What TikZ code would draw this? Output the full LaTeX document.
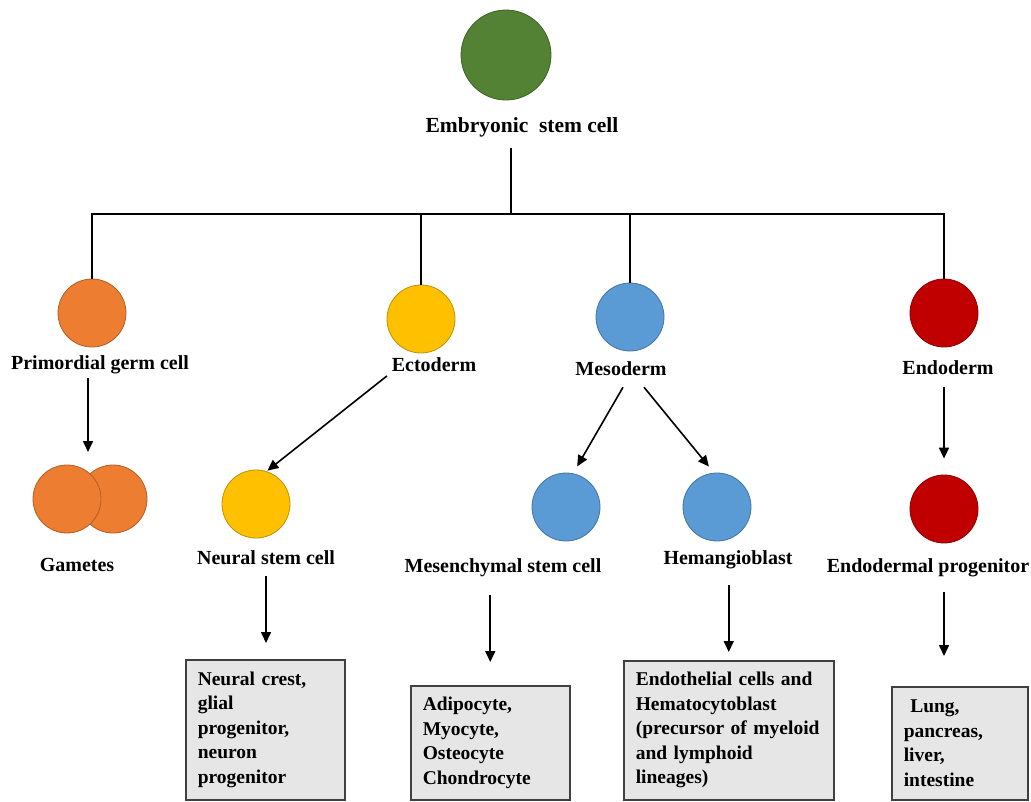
\documentclass[tikz,border=0pt]{standalone}
\usepackage{fontspec}
\setmainfont{Liberation Serif}
\usepackage{xcolor}
\usepackage{tikz}
\usetikzlibrary{arrows.meta, calc}

\definecolor{escgreen}{RGB}{84,130,53}
\definecolor{germorange}{RGB}{237,125,49}
\definecolor{ectoyellow}{RGB}{255,192,0}
\definecolor{mesoblue}{RGB}{91,155,213}
\definecolor{endored}{RGB}{192,0,0}
\definecolor{boxfill}{RGB}{231,230,230}
\definecolor{boxline}{RGB}{64,64,64}

\begin{document}
\begin{tikzpicture}[x=1pt, y=-1pt,
  cell/.style={circle, draw=#1!75!black, fill=#1, line width=0.8pt, minimum size=68pt, inner sep=0pt},
  lbl/.style={font=\fontsize{20}{24}\selectfont\bfseries, inner sep=0pt},
  cellbox/.style={draw=boxline, fill=boxfill, line width=1.5pt, inner xsep=12pt, inner ysep=0pt, align=left, anchor=north west, font=\fontsize{19.5}{24.5}\selectfont\bfseries},
  link/.style={line width=1.6pt},
  arr/.style={line width=1.6pt, -{Triangle[length=11pt, width=10pt]}}]
  \useasboundingbox (0,0) rectangle (1031,801);

  % top
  \node[cell=escgreen, minimum size=90pt] (esc) at (506, 55) {};
  \node[lbl, font=\fontsize{21.5}{26}\selectfont\bfseries] (esclbl) at (522, 127) {Embryonic\ \ stem cell};
  \coordinate (split) at (511, 214);

  % germ layers
  \node[cell=germorange] (prim) at (92, 313) {};
  \node[lbl] (primlbl) at (100, 365) {Primordial germ cell};
  \node[cell=ectoyellow] (ecto) at (421, 319) {};
  \node[lbl] (ectolbl) at (434, 365) {Ectoderm};
  \node[cell=mesoblue] (meso) at (630, 317) {};
  \node[lbl] (mesolbl) at (621, 369) {Mesoderm};
  \node[cell=endored] (endo) at (944, 313) {};
  \node[lbl] (endolbl) at (948, 368) {Endoderm};

  \draw[link, shorten <=11pt] (esclbl.south -| split) -- (split);
  \draw[link] (prim.north) |- (split) -| (endo.north);
  \draw[link] (ecto.north) -- (ecto.north |- split);
  \draw[link] (meso.north) -- (meso.north |- split);

  % progenitors
  \node[cell=germorange] (gam2) at (113, 499) {};
  \node[cell=germorange] (gam1) at (67, 499) {};
  \coordinate (gam) at (88, 465);
  \node[lbl] (gamlbl) at (77, 565) {Gametes};
  \node[cell=ectoyellow] (neural) at (256, 504) {};
  \node[lbl] (neurlbl) at (266, 558) {Neural stem cell};
  \node[cell=mesoblue] (mesen) at (566, 507) {};
  \node[lbl] (mesenlbl) at (503, 568) {Mesenchymal stem cell};
  \node[cell=mesoblue] (hemang) at (717, 507) {};
  \node[lbl] (hemanglbl) at (728, 560) {Hemangioblast};
  \node[cell=endored] (endoprog) at (944, 509) {};
  \node[lbl] (endoplbl) at (928, 568) {Endodermal progenitor};

  \draw[arr, shorten <=4pt, shorten >=13pt] (primlbl.south -| gam) -- (gam);
  \draw[arr, shorten <=6pt, shorten >=1pt] (ectolbl.south west) -- (neural.72);
  \draw[arr, shorten >=8pt] ([xshift=2pt, yshift=-11pt]mesolbl.south) -- (mesen.78);
  \draw[arr, shorten >=8pt] ([xshift=23pt, yshift=-11pt]mesolbl.south) -- (hemang.95);
  \draw[arr, shorten <=12pt, shorten >=16pt] (endolbl.south -| endoprog) -- (endoprog);

  % mature cell types
  \node[cellbox, text width=135pt, minimum height=140pt] (neurbox) at (185, 659)
    {Neural crest,\\ glial\\ progenitor,\\ neuron\\ progenitor};
  \node[cellbox, text width=135pt, minimum height=114pt] (mesenbox) at (410, 685)
    {Adipocyte,\\ Myocyte,\\ Osteocyte\\ Chondrocyte};
  \node[cellbox, text width=186pt, minimum height=139pt] (hemangbox) at (623, 660)
    {Endothelial cells and\\ Hematocytoblast\\ (precursor of myeloid\\ and lymphoid\\ lineages)};
  \node[cellbox, text width=112pt, minimum height=113pt] (endobox) at (891, 686)
    {\ Lung,\\ pancreas,\\ liver,\\ intestine};

  \draw[arr, shorten <=11pt, shorten >=16pt] (neurlbl.south) -- (neurlbl.south |- neurbox.north);
  \draw[arr, shorten <=18pt, shorten >=23pt] (mesenbox.north |- mesenlbl.south) -- (mesenbox.north);
  \draw[arr, shorten <=16pt, shorten >=8pt] (hemangbox.north |- hemanglbl.south) -- (hemangbox.north);
  \draw[arr, shorten <=15pt, shorten >=30pt] (endoprog |- endoplbl.south) -- (endoprog |- endobox.north);
\end{tikzpicture}
\end{document}
